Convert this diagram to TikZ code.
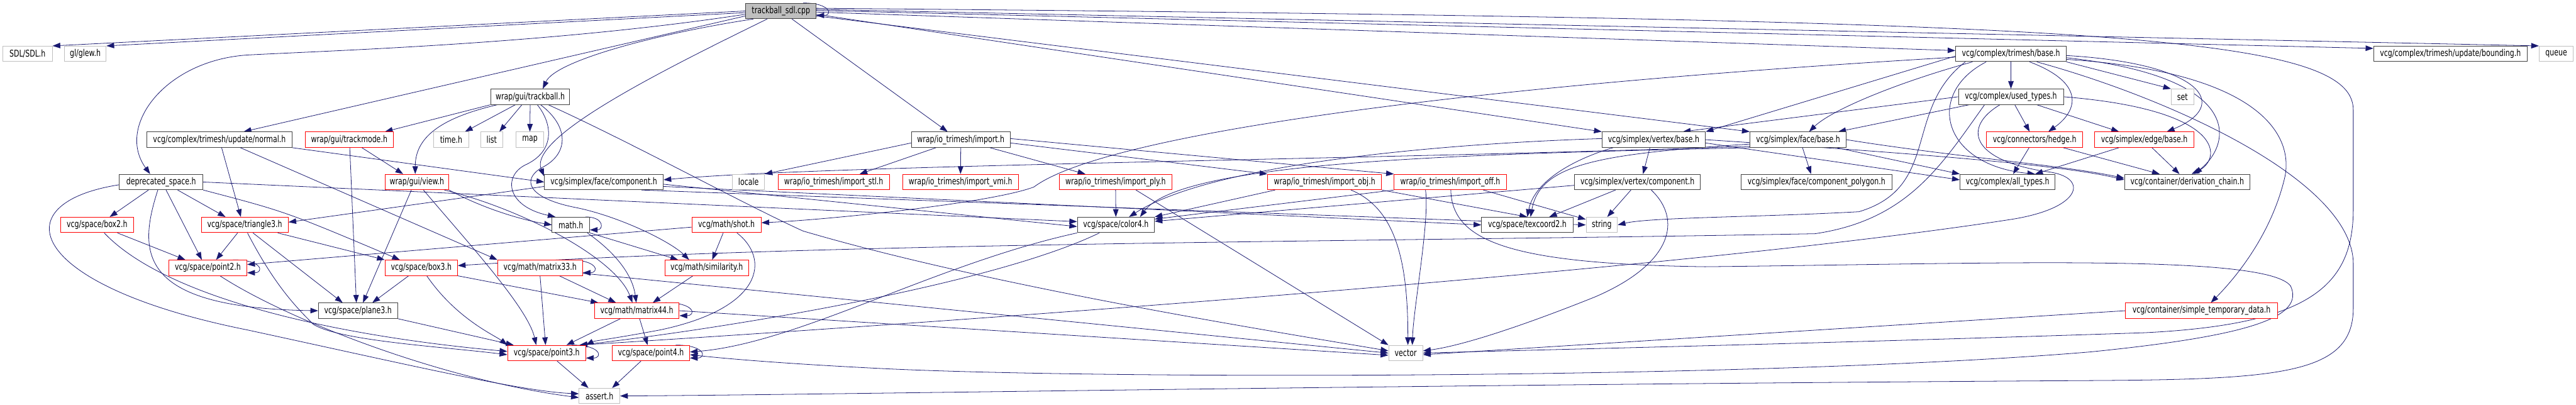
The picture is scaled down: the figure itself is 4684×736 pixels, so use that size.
\documentclass[tikz,border=0pt]{standalone}
\usepackage{fontspec}
\newfontfamily\filefont{DejaVu Sans}[FakeStretch=0.74]
\usepackage{tikz}
\usetikzlibrary{arrows.meta,backgrounds}
\definecolor{edgeblue}{HTML}{191970}
\definecolor{boxred}{HTML}{FF0000}
\definecolor{boxgray}{HTML}{BFBFBF}
\definecolor{boxdark}{HTML}{404040}
\definecolor{rootfill}{HTML}{BFBFBF}

\begin{document}
\begin{tikzpicture}[x=1pt, y=-1pt,
      file/.style={draw=boxdark, line width=1.1pt, fill=white, minimum height=28pt,
                   inner sep=0pt, font=\filefont\fontsize{17}{19}\selectfont},
      trunc/.style={file, draw=boxred},
      sysfile/.style={file, draw=boxgray},
      srcfile/.style={file, fill=rootfill},
      dep/.style={draw=edgeblue, line width=0.9pt, -{Triangle[length=14pt,width=10pt]}}]
    \useasboundingbox (0,0) rectangle (4684,736);
    \node[srcfile, minimum width=128pt] (root) at (1420,20) {trackball\_sdl.cpp};
    \node[sysfile, minimum width=90pt] (sdl) at (50,98) {SDL/SDL.h};
    \node[sysfile, minimum width=76pt] (glew) at (155,98) {gl/glew.h};
    \node[file, minimum width=201pt] (tbase) at (3656.5,98) {vcg/complex/trimesh/base.h};
    \node[file, minimum width=279pt] (bound) at (4455.5,98) {vcg/complex/trimesh/update/bounding.h};
    \node[sysfile, minimum width=62pt] (queue) at (4648,98) {queue};
    \node[file, minimum width=144pt] (trackball) at (964,176) {wrap/gui/trackball.h};
    \node[file, minimum width=191pt] (used) at (3656.5,176) {vcg/complex/used\_types.h};
    \node[sysfile, minimum width=41pt] (set) at (3968.5,176) {set};
    \node[file, minimum width=264pt] (normal) at (399,254) {vcg/complex/trimesh/update/normal.h};
    \node[trunc, minimum width=160pt] (trackmode) at (635,254) {wrap/gui/trackmode.h};
    \node[sysfile, minimum width=63pt] (time) at (820.5,254) {time.h};
    \node[sysfile, minimum width=40pt] (list) at (894,254) {list};
    \node[sysfile, minimum width=51pt] (map) at (963.5,254) {map};
    \node[file, minimum width=180pt] (import) at (1747,254) {wrap/io\_trimesh/import.h};
    \node[file, minimum width=188pt] (vbase) at (3007,254) {vcg/simplex/vertex/base.h};
    \node[file, minimum width=175pt] (fbase) at (3269.5,254) {vcg/simplex/face/base.h};
    \node[trunc, minimum width=175pt] (hedge) at (3699.5,254) {vcg/connectors/hedge.h};
    \node[trunc, minimum width=180pt] (ebase) at (3899,254) {vcg/simplex/edge/base.h};
    \node[file, minimum width=152pt] (depr) at (293,331) {deprecated\_space.h};
    \node[trunc, minimum width=116pt] (view) at (758,331) {wrap/gui/view.h};
    \node[file, minimum width=216pt] (fcomp) at (1098,331) {vcg/simplex/face/component.h};
    \node[sysfile, minimum width=58pt] (locale) at (1361,331) {locale};
    \node[trunc, minimum width=202pt] (stl) at (1516,331) {wrap/io\_trimesh/import\_stl.h};
    \node[trunc, minimum width=211pt] (vmi) at (1746.5,331) {wrap/io\_trimesh/import\_vmi.h};
    \node[trunc, minimum width=205pt] (ply) at (2028.5,331) {wrap/io\_trimesh/import\_ply.h};
    \node[trunc, minimum width=207pt] (obj) at (2408.5,331) {wrap/io\_trimesh/import\_obj.h};
    \node[trunc, minimum width=204pt] (off) at (2637,331) {wrap/io\_trimesh/import\_off.h};
    \node[file, minimum width=229pt] (vcomp) at (2977.5,331) {vcg/simplex/vertex/component.h};
    \node[file, minimum width=274pt] (fpoly) at (3303,331) {vcg/simplex/face/component\_polygon.h};
    \node[file, minimum width=173pt] (alltypes) at (3650.5,331) {vcg/complex/all\_types.h};
    \node[file, minimum width=228pt] (dchain) at (3977,331) {vcg/container/derivation\_chain.h};
    \node[trunc, minimum width=133pt] (box2) at (176.5,409) {vcg/space/box2.h};
    \node[trunc, minimum width=158pt] (tri3) at (445,409) {vcg/space/triangle3.h};
    \node[file, minimum width=68pt] (mathh) at (1038,409) {math.h};
    \node[trunc, minimum width=126pt] (shot) at (1321,409) {vcg/math/shot.h};
    \node[file, minimum width=140pt] (color4) at (2029,409) {vcg/space/color4.h};
    \node[file, minimum width=166pt] (tex2) at (2777,409) {vcg/space/texcoord2.h};
    \node[sysfile, minimum width=57pt] (string) at (2912.5,409) {string};
    \node[trunc, minimum width=142pt] (point2) at (378,487) {vcg/space/point2.h};
    \node[trunc, minimum width=132pt] (box3) at (766,487) {vcg/space/box3.h};
    \node[trunc, minimum width=154pt] (m33) at (982,487) {vcg/math/matrix33.h};
    \node[trunc, minimum width=152pt] (sim) at (1285,487) {vcg/math/similarity.h};
    \node[file, minimum width=144pt] (plane3) at (651,565) {vcg/space/plane3.h};
    \node[trunc, minimum width=154pt] (m44) at (1158,565) {vcg/math/matrix44.h};
    \node[trunc, minimum width=276pt] (stemp) at (4003,565) {vcg/container/simple\_temporary\_data.h};
    \node[trunc, minimum width=142pt] (point3) at (994,642) {vcg/space/point3.h};
    \node[trunc, minimum width=141pt] (point4) at (1183.5,642) {vcg/space/point4.h};
    \node[sysfile, minimum width=62pt] (vector) at (2556,642) {vector};
    \node[sysfile, minimum width=74pt] (assert) at (1090,720) {assert.h};
    \begin{scope}[on background layer]
    \draw[dep] (root.west) -- (sdl.north east);
    \draw[dep] ([yshift=-3pt]root.west) -- (glew.north east);
    \draw[dep] ([yshift=-6pt]root.west) .. controls (1000,80) and (600,92) .. (450,100) .. controls (300,110) and (210,230) .. ([xshift=-20pt]depr.north);
    \draw[dep] ([yshift=-9pt]root.west) -- ([xshift=44pt]normal.north);
    \draw[dep] ([xshift=-50pt]root.south) .. controls (1200,60) and (1010,110) .. ([xshift=23pt]trackball.north);
    \draw[dep] ([xshift=-25pt]root.south) .. controls (1200,130) and (960,250) .. ([yshift=-4pt]fcomp.north west);
    \draw[dep] ([xshift=20pt]root.south) -- ([xshift=-24pt]import.north);
    \draw[dep] ([yshift=3pt]root.east) -- (queue.north west);
    \draw[dep] ([yshift=1pt]root.east) -- ([yshift=10pt]bound.west);
    \draw[dep] ([yshift=-2pt]root.east) -- ([yshift=6pt]tbase.west);
    \draw[dep] ([yshift=-6pt]root.east) -- (vbase.north west);
    \draw[dep] ([yshift=-9pt]root.east) -- (fbase.north west);
    \draw[dep] ([yshift=5pt]root.east) .. controls (3800,35) and (4279,60) .. (4279,200) -- (4279,380) .. controls (4279,520) and (4200,590) .. (3900,605) .. controls (3300,625) and (2800,636) .. (vector.east);
    \draw[dep] ([xshift=-24pt]root.north east) .. controls +(50,0) and +(30,0) .. ([yshift=-8pt]root.east);
    \draw[dep] (tbase.south) -- (used.north);
    \draw[dep] ([yshift=-4pt]tbase.west) -- (vbase.north east);
    \draw[dep] ([xshift=-70pt]tbase.south) .. controls (3450,150) and (3330,200) .. ([xshift=20pt]fbase.north);
    \draw[dep] ([xshift=34pt]tbase.south) .. controls (3790,150) and (3780,200) .. ([xshift=25pt]hedge.north);
    \draw[dep] (tbase.south east) -- (set.north west);
    \draw[dep] ([yshift=-3pt]tbase.east) .. controls (4000,115) and (4060,190) .. ([xshift=41pt]ebase.north);
    \draw[dep] ([yshift=-7pt]tbase.east) .. controls (4080,140) and (4060,260) .. ([xshift=13pt]dchain.north);
    \draw[dep] ([xshift=-45pt]tbase.south) .. controls (3500,170) and (3530,300) .. ([xshift=50pt]alltypes.north);
    \draw[dep] ([xshift=-83pt]tbase.south) .. controls (3460,200) and (3530,340) .. (3380,385) .. controls (3200,395) and (3000,395) .. (string.east);
    \draw[dep] ([yshift=-6pt]tbase.west) .. controls (2600,160) and (2000,250) .. (1880,340) .. controls (1800,370) and (1500,400) .. ([yshift=4pt]shot.east);
    \draw[dep] ([yshift=-10pt]tbase.east) .. controls (4100,130) and (4170,240) .. (4155,320) .. controls (4130,430) and (4060,510) .. ([xshift=17pt]stemp.north);
    \draw[dep] ([xshift=47pt]tbase.south) .. controls (3950,180) and (4279,330) .. (4279,480) -- (4279,560) .. controls (4279,680) and (4150,690) .. (3800,692) .. controls (2500,700) and (1500,718) .. (assert.east);
    \draw[dep] (used.west) -- ([xshift=53pt]vbase.north);
    \draw[dep] ([xshift=-76pt]used.south) -- ([xshift=73pt]fbase.north);
    \draw[dep] ([xshift=7pt]used.south) -- ([xshift=-9pt]hedge.north);
    \draw[dep] ([xshift=47pt]used.south) -- ([xshift=-46pt]ebase.north);
    \draw[dep] (used.east) .. controls (4050,200) and (4040,290) .. ([xshift=8pt]dchain.north);
    \draw[dep] ([xshift=-20pt]used.south) .. controls (3570,230) and (3580,290) .. (3720,312) .. controls (3800,320) and (3790,380) .. (3650,400) .. controls (3000,500) and (1500,600) .. ([xshift=60pt]point3.north);
    \draw[dep] ([xshift=-48pt]used.south) .. controls (3530,300) and (3470,400) .. (3300,425) .. controls (2500,440) and (1500,440) .. ([yshift=4pt]box3.east);
    \draw[dep] (trackball.south west) -- ([xshift=65pt]trackmode.north);
    \draw[dep] ([xshift=-60pt]trackball.south) .. controls (800,215) and (755,250) .. ([xshift=-3pt]view.north);
    \draw[dep] ([xshift=-27pt]trackball.south) -- ([xshift=25pt]time.north);
    \draw[dep] ([xshift=-15pt]trackball.south) -- ([xshift=14pt]list.north);
    \draw[dep] (trackball.south) -- (map.north);
    \draw[dep] ([xshift=13pt]trackball.south) .. controls (1005,225) and (1010,275) .. (955,300) .. controls (915,320) and (920,375) .. ([xshift=-28pt]mathh.north);
    \draw[dep] ([xshift=19pt]trackball.south) .. controls (1035,230) and (1035,280) .. (985,305) .. controls (950,325) and (955,360) .. (1050,378) .. controls (1130,395) and (1220,440) .. ([xshift=-32pt]sim.north);
    \draw[dep] ([xshift=33pt]trackball.south) .. controls (1150,260) and (1350,370) .. (1460,420) .. controls (1800,520) and (2300,600) .. ([yshift=4pt]vector.west);
    \draw[dep] ([xshift=4pt]normal.south) -- ([xshift=-7pt]tri3.north);
    \draw[dep] ([xshift=38pt]normal.south) -- (m33.north west);
    \draw[dep] (normal.south east) -- (fcomp.west);
    \draw[dep] ([xshift=-23pt]depr.south) -- ([xshift=23pt]box2.north);
    \draw[dep] ([xshift=9pt]depr.south) -- ([xshift=-11pt]point2.north);
    \draw[dep] ([xshift=30pt]depr.south) -- ([xshift=-35pt]tri3.north);
    \draw[dep] (depr.south east) .. controls (520,385) .. ([xshift=-39pt]box3.north);
    \draw[dep] (depr.east) -- ([yshift=6pt]color4.west);
    \draw[dep] ([xshift=-6pt]depr.south) .. controls (250,460) and (250,560) .. (plane3.west);
    \draw[dep] ([yshift=-5pt]depr.west) .. controls (0,370) and (50,520) .. (450,600) .. controls (750,665) and (950,712) .. ([yshift=4pt]assert.west);
    \draw[dep] ([xshift=37pt]box2.south) -- ([xshift=-41pt]point2.north);
    \draw[dep] ([xshift=13pt]box2.south) .. controls (300,540) and (600,610) .. ([yshift=3pt]point3.west);
    \draw[dep] ([xshift=-13pt]tri3.south) -- ([xshift=15pt]point2.north);
    \draw[dep] ([xshift=15pt]tri3.south) -- ([xshift=-28pt]plane3.north);
    \draw[dep] ([xshift=60pt]tri3.south) -- (box3.north west);
    \draw[dep] ([xshift=5pt]tri3.south) .. controls (500,520) and (540,560) .. (570,590) .. controls (620,620) and (800,630) .. ([yshift=-3pt]point3.west);
    \draw[dep] ([xshift=22pt]point2.south) .. controls (520,580) and (800,690) .. ([yshift=-3pt]assert.west);
    \draw[dep] ([xshift=-26pt]point2.north east) .. controls +(55,0) and +(30,0) .. ([yshift=-9pt]point2.east);
    \draw[dep] ([xshift=23pt]trackmode.south) -- ([xshift=-25pt]view.north);
    \draw[dep] ([xshift=1pt]trackmode.south) -- ([xshift=-3pt]plane3.north);
    \draw[dep] ([xshift=-10pt]view.south) -- ([xshift=9pt]plane3.north);
    \draw[dep] (view.south east) .. controls (880,380) and (950,400) .. (mathh.west);
    \draw[dep] ([xshift=12pt]view.south) .. controls (850,440) and (960,560) .. ([xshift=-19pt]point3.north);
    \draw[dep] ([xshift=50pt]view.south) .. controls (950,380) and (1120,470) .. ([xshift=-8pt]m44.north);
    \draw[dep] ([yshift=-8pt]fcomp.west) -- ([yshift=5pt]tri3.east);
    \draw[dep] ([yshift=-4pt]fcomp.east) -- ([yshift=-3pt]color4.west);
    \draw[dep] ([yshift=-8pt]fcomp.east) -- (tex2.west);
    \draw[dep] ([xshift=-40pt]fcomp.south east) -- (string.west);
    \draw[dep] ([xshift=-6pt]shot.south) -- ([xshift=10pt]sim.north);
    \draw[dep] ([yshift=-4pt]shot.west) -- ([yshift=6pt]point2.east);
    \draw[dep] ([xshift=19pt]shot.south) .. controls (1400,470) and (1390,560) .. (1200,600) .. controls (1120,615) and (1080,620) .. (point3.north east);
    \draw[dep] ([xshift=30pt]mathh.south) .. controls (1120,460) and (1150,500) .. ([xshift=-1pt]m44.north);
    \draw[dep] (mathh.south east) -- ([xshift=-52pt]sim.north);
    \draw[dep] ([xshift=-8pt]mathh.north east) .. controls +(35,0) and +(25,0) .. ([yshift=-9pt]mathh.east);
    \draw[dep] ([xshift=-25pt]sim.south) -- ([xshift=29pt]m44.north);
    \draw[dep] ([xshift=-23pt]box3.south) -- ([xshift=26pt]plane3.north);
    \draw[dep] ([xshift=10pt]box3.south) .. controls (830,580) and (900,610) .. (point3.north west);
    \draw[dep] (box3.south east) -- ([xshift=-70pt]m44.north);
    \draw[dep] (plane3.south east) -- ([xshift=-60pt]point3.north);
    \draw[dep] (m33.south) -- ([xshift=-2pt]point3.north);
    \draw[dep] ([xshift=35pt]m33.south) -- ([xshift=-38pt]m44.north);
    \draw[dep] ([yshift=-10pt]m33.east) -- (vector.west);
    \draw[dep] ([xshift=-26pt]m33.north east) .. controls +(55,0) and +(30,0) .. ([yshift=-9pt]m33.east);
    \draw[dep] ([xshift=-30pt]m44.south) -- ([xshift=36pt]point3.north);
    \draw[dep] ([xshift=5pt]m44.south) -- ([xshift=-6pt]point4.north);
    \draw[dep] (m44.east) -- ([yshift=-4pt]vector.west);
    \draw[dep] ([xshift=-26pt]m44.north east) .. controls +(55,0) and +(30,0) .. ([yshift=-9pt]m44.east);
    \draw[dep] ([xshift=19pt]point3.south) -- ([xshift=-20pt]assert.north);
    \draw[dep] ([xshift=-26pt]point3.north east) .. controls +(55,0) and +(30,0) .. ([yshift=-9pt]point3.east);
    \draw[dep] ([xshift=-18pt]point4.south) -- ([xshift=23pt]assert.north);
    \draw[dep] ([xshift=-26pt]point4.north east) .. controls +(55,0) and +(30,0) .. ([yshift=-9pt]point4.east);
    \draw[dep] ([xshift=-30pt]color4.south) .. controls (1800,520) and (1300,600) .. ([xshift=-12pt]point3.north east);
    \draw[dep] (color4.south west) .. controls (1700,480) and (1450,625) .. ([yshift=2pt]point4.east);
    \draw[dep] ([yshift=-6pt]import.west) -- (locale.north east);
    \draw[dep] ([xshift=-45pt]import.south) -- ([xshift=47pt]stl.north);
    \draw[dep] (import.south) -- (vmi.north);
    \draw[dep] ([xshift=53pt]import.south) -- ([xshift=-55pt]ply.north);
    \draw[dep] ([yshift=-6pt]import.east) -- (obj.north west);
    \draw[dep] ([yshift=2pt]import.east) -- (off.north west);
    \draw[dep] (ply.south) -- (color4.north);
    \draw[dep] ([xshift=37pt]ply.south) -- (vector.north west);
    \draw[dep] ([xshift=48pt]obj.south) .. controls (2540,380) and (2560,480) .. ([xshift=4pt]vector.north);
    \draw[dep] ([xshift=-90pt]obj.south) -- (color4.north east);
    \draw[dep] (obj.south east) -- (tex2.north);
    \draw[dep] ([xshift=-45pt]off.south) .. controls (2600,400) and (2570,560) .. ([xshift=12pt]vector.north);
    \draw[dep] ([xshift=60pt]off.south) -- ([yshift=10pt]string.west);
    \draw[dep] (off.south west) -- ([yshift=-4pt]color4.north east);
    \draw[dep] ([xshift=1pt]off.south) .. controls (2640,440) and (2750,480) .. (3100,485) .. controls (3600,480) and (4120,460) .. (4165,520) .. controls (4190,575) and (4100,610) .. (3800,640) .. controls (3200,690) and (2000,690) .. (1600,670) .. controls (1400,660) and (1300,650) .. ([yshift=-3pt]point4.east);
    \draw[dep] ([xshift=-7pt]vbase.south) -- ([xshift=10pt]vcomp.north);
    \draw[dep] ([xshift=-74pt]vbase.south) .. controls (2860,290) and (2790,330) .. (tex2.north);
    \draw[dep] ([yshift=-6pt]vbase.east) -- ([yshift=4pt]alltypes.west);
    \draw[dep] (vbase.east) .. controls (3500,280) and (3750,300) .. ([yshift=4pt]dchain.west);
    \draw[dep] ([yshift=2pt]vbase.west) .. controls (2600,262) and (2200,300) .. ([xshift=24pt]color4.north);
    \draw[dep] ([yshift=-12pt]fbase.west) .. controls (2500,290) and (1500,300) .. ([yshift=4pt]fcomp.east);
    \draw[dep] ([xshift=8pt]fbase.south) -- ([xshift=-10pt]fpoly.north);
    \draw[dep] ([xshift=70pt]fbase.south) -- (alltypes.north west);
    \draw[dep] (fbase.east) .. controls (3550,285) and (3750,300) .. ([yshift=7pt]dchain.west);
    \draw[dep] ([yshift=-8pt]fbase.west) .. controls (2900,280) and (2800,300) .. ([xshift=6pt]tex2.north);
    \draw[dep] (fbase.south west) .. controls (2700,280) and (2150,290) .. ([xshift=44pt]color4.north);
    \draw[dep] ([xshift=-40pt]vcomp.south) -- ([xshift=40pt]tex2.north);
    \draw[dep] ([xshift=-12pt]vcomp.south) -- ([xshift=10pt]string.north);
    \draw[dep] ([yshift=-6pt]vcomp.west) -- ([yshift=-8pt]color4.north east);
    \draw[dep] ([xshift=25pt]vcomp.south) .. controls (3060,400) and (3040,480) .. (2900,540) .. controls (2750,600) and (2650,630) .. ([yshift=4pt]vector.east);
    \draw[dep] ([xshift=-10pt]hedge.south) -- ([xshift=10pt]alltypes.north);
    \draw[dep] ([xshift=52pt]hedge.south) -- ([xshift=-50pt]dchain.north);
    \draw[dep] ([xshift=-46pt]ebase.south) -- ([xshift=50pt]alltypes.north);
    \draw[dep] ([xshift=14pt]ebase.south) -- ([xshift=-14pt]dchain.north);
    \draw[dep] (stemp.west) -- ([yshift=-3pt]vector.east);
    \end{scope}
  \end{tikzpicture}
\end{document}
